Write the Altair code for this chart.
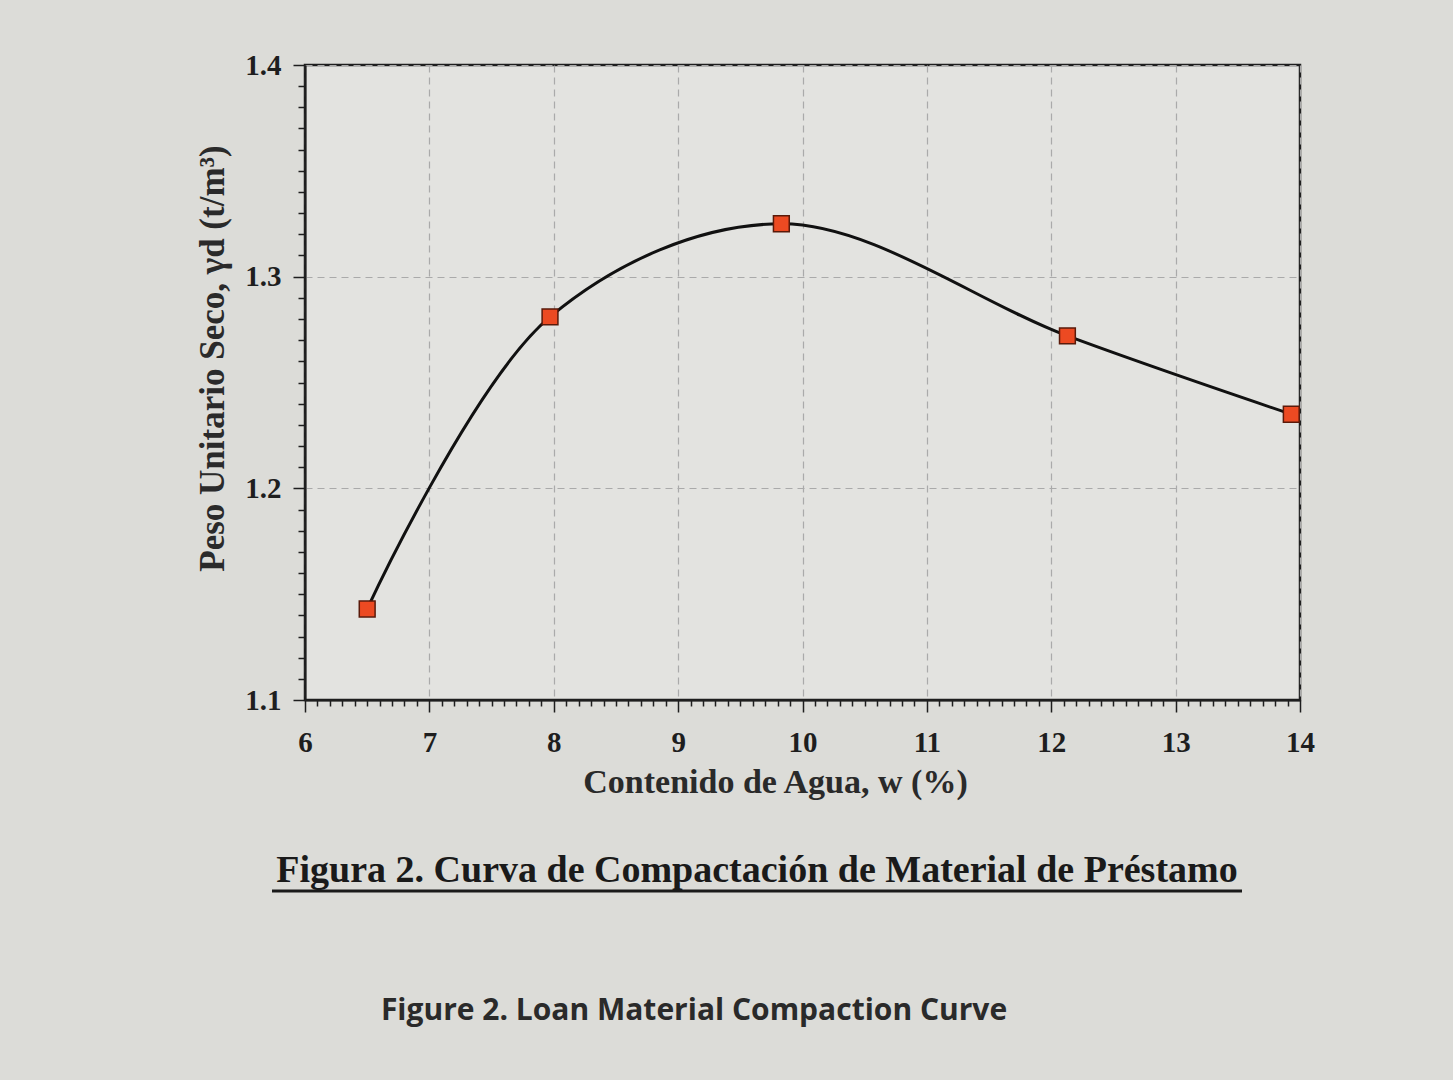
import altair as alt
import pandas as pd

# data
water = [6.5, 7.97, 9.83, 12.13, 13.93]
dry_unit_weight = [1.143, 1.281, 1.325, 1.272, 1.235]

x_ticks = [round(6 + 0.1 * i, 1) for i in range(81)]
y_ticks = [round(1.1 + 0.01 * i, 2) for i in range(31)]

caption_es = ["Figura 2. Curva de Compactación de Material de Préstamo"]
caption_en = ["Figure 2. Loan Material Compaction Curve"]

df = pd.DataFrame({"w": water, "gd": dry_unit_weight})

serif = "Liberation Serif"
ink = "#1e1e1e"

x_major = "abs(datum.value - round(datum.value)) < 0.001"
y_major = "abs(datum.value*10 - round(datum.value*10)) < 0.001"

x_axis = alt.Axis(
    values=x_ticks,
    labelExpr=f"{x_major} ? format(datum.value, 'd') : ''",
    tickSize={"condition": {"test": x_major, "value": 12}, "value": 6},
    gridOpacity={"condition": {"test": x_major, "value": 1}, "value": 0},
    gridDash=[7, 5], gridColor="#aaaaaa", gridWidth=1.2,
    labelFont=serif, labelFontSize=29, labelFontWeight="bold", labelColor=ink,
    labelPadding=16, labelOverlap=False, labelFlush=False,
    titleFont=serif, titleFontSize=34, titleFontWeight="bold", titleColor="#2a2a2a",
    titlePadding=8, titleX=470, domainColor=ink, domainWidth=2, tickColor=ink, tickWidth=1.5,
)
y_axis = alt.Axis(
    values=y_ticks,
    labelExpr=f"{y_major} ? format(datum.value, '.1f') : ''",
    tickSize={"condition": {"test": y_major, "value": 12}, "value": 7},
    gridOpacity={"condition": {"test": y_major, "value": 1}, "value": 0},
    gridDash=[7, 5], gridColor="#aaaaaa", gridWidth=1.2,
    labelFont=serif, labelFontSize=29, labelFontWeight="bold", labelColor=ink,
    labelPadding=12, labelOverlap=False, labelFlush=False,
    titleFont=serif, titleFontSize=35, titleFontWeight="bold", titleColor="#2a2a2a",
    titlePadding=14, titleY=293, domainColor=ink, domainWidth=2, tickColor=ink, tickWidth=1.5,
)

x_enc = alt.X("w:Q", title="Contenido de Agua, w (%)",
              scale=alt.Scale(domain=[6, 14], nice=False, zero=False), axis=x_axis)
y_enc = alt.Y("gd:Q", title="Peso Unitario Seco, γd (t/m³)",
              scale=alt.Scale(domain=[1.1, 1.4], nice=False, zero=False), axis=y_axis)

line = alt.Chart(df).mark_line(
    color="#111111", strokeWidth=3, interpolate="catmull-rom"
).encode(x=x_enc, y=y_enc)

points = alt.Chart(df).mark_point(
    shape="square", filled=True, size=250, color="#ec4a22",
    stroke="#5a1a0a", strokeWidth=1.5, opacity=1
).encode(x=x_enc, y=y_enc)

cap1 = alt.Chart(pd.DataFrame({"t": caption_es})).mark_text(
    font=serif, fontSize=38, fontWeight="bold", color="#1a1a1a", align="center", baseline="alphabetic"
).encode(text="t:N", x=alt.value(452), y=alt.value(817))

underline = alt.Chart(pd.DataFrame({"t": caption_es})).mark_rule(
    color="#1a1a1a", strokeWidth=3
).encode(x=alt.value(-33), x2=alt.value(937), y=alt.value(826))

cap2 = alt.Chart(pd.DataFrame({"t": caption_en})).mark_text(
    font="Open Sans", fontSize=30, fontWeight="bold", color="#2a2a2a", align="center", baseline="alphabetic"
).encode(text="t:N", x=alt.value(389), y=alt.value(955))

chart = alt.layer(line, points, cap1, underline, cap2).properties(
    width=995, height=635,
    autosize=alt.AutoSizeParams(type="none"),
    padding={"left": 305, "top": 65, "right": 153, "bottom": 380},
    background="#dcdcd8",
).configure_view(stroke="#1e1e1e", strokeWidth=2.5, fill="#e3e3e0")

chart.save("out.html", embed_options={"renderer": "svg", "actions": False})
